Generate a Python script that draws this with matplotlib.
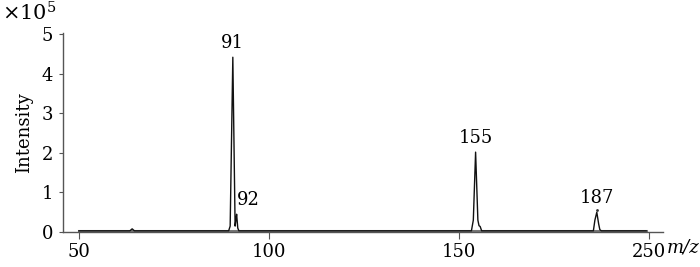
import numpy as np
import matplotlib.pyplot as plt

# trace of the mass spectrum (m/z, intensity in units of 1e5)
mz = [50.0, 63.4, 64.0, 64.6, 89.4, 89.8, 90.5, 91.1, 91.3, 91.5, 91.8, 92.1,
      153.3, 153.8, 154.4, 155.0, 155.3, 155.6, 156.0,
      185.4, 185.8, 186.3, 186.8, 187.1, 187.5, 199.3]
intensity = [0.03, 0.03, 0.08, 0.03, 0.03, 0.15, 4.42, 0.15, 0.3, 0.45, 0.1, 0.03,
             0.03, 0.3, 2.02, 0.3, 0.16, 0.14, 0.03,
             0.03, 0.3, 0.5, 0.2, 0.06, 0.03, 0.03]

peak_mz = [90.5, 91.5, 154.4, 186.3]
peak_int = [4.42, 0.45, 2.02, 0.5]
peak_labels = ['91', '92', '155', '187']
label_dx = [0.0, 3.0, 0.0, 0.0]

xticks = [50, 100, 150, 200]
xticklabels = ['50', '100', '150', '250']
yticks = [0, 1, 2, 3, 4, 5]

plt.rcParams['font.family'] = ['DejaVu Serif']
plt.rcParams['font.size'] = 13
plt.rcParams['mathtext.fontset'] = 'dejavuserif'

fig = plt.figure(figsize=(7, 2.67), dpi=100)
ax = fig.add_axes([0.09, 0.131, 0.857, 0.745])

ax.plot([mz[0], mz[-1]], [0.03, 0.03], color='#777777', lw=2.2, zorder=1)
ax.plot(mz, intensity, color='#111111', lw=1.0, zorder=2)

for x, y, t, dx in zip(peak_mz, peak_int, peak_labels, label_dx):
    ax.text(x + dx, y + 0.14, t, ha='center', va='bottom')
ax.plot([peak_mz[3]], [peak_int[3] + 0.05], '.', color='#333333', ms=2)

ax.set_xlim(45.8, 203.7)
ax.set_ylim(0, 5.03)
ax.set_xticks(xticks)
ax.set_xticklabels(xticklabels)
ax.set_yticks(yticks)

for s in ['top', 'right']:
    ax.spines[s].set_visible(False)
for s in ['left', 'bottom']:
    ax.spines[s].set_color('#555555')
    ax.spines[s].set_linewidth(1.0)
ax.tick_params(axis='x', direction='out', length=5, pad=3, color='#555555')
ax.tick_params(axis='y', direction='out', length=3, pad=4, color='#555555')

ax.set_ylabel('Intensity', labelpad=6)
fig.text(0.003, 0.995, r'$\times$10$^5$', ha='left', va='top', fontsize=15)
fig.text(0.952, 0.04, 'm/z', ha='left', va='bottom', style='italic')

fig.savefig('out.png', dpi=100)
